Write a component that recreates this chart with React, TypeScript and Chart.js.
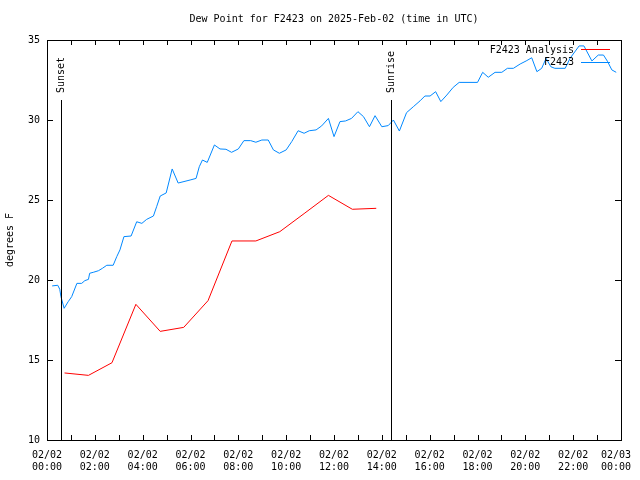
import { useEffect, useRef } from "react";
import { Chart, registerables } from "chart.js";

Chart.register(...registerables);

const TITLE = "Dew Point for F2423 on 2025-Feb-02 (time in UTC)";
const Y_TITLE = "degrees F";
const FONT = "'DejaVu Sans Mono', monospace";

const TICK_DATES = ["02/02", "02/02", "02/02", "02/02", "02/02", "02/02", "02/02", "02/02", "02/02", "02/02", "02/02", "02/02", "02/03"];
const TICK_TIMES = ["00:00", "02:00", "04:00", "06:00", "08:00", "10:00", "12:00", "14:00", "16:00", "18:00", "20:00", "22:00", "00:00"];
const Y_MIN = 10;
const Y_MAX = 35;
const Y_STEP = 5;

const SUNSET_MIN = 35;
const SUNRISE_MIN = 863;

// Observations (minutes after 02/02 00:00 UTC)
const OBS_MINUTES = [
  13, 27, 32, 35, 43, 53, 62, 75, 87, 95, 104, 107, 116, 129, 139, 150, 166, 175, 183, 193,
  211, 225, 238, 250, 267, 275, 284, 299, 314, 329, 359, 374, 382, 390, 402, 420, 434, 449,
  463, 480, 494, 511, 524, 539, 555, 568, 583, 600, 614, 630, 645, 658, 675, 689, 706, 720,
  735, 749, 764, 780, 794, 809, 823, 840, 856, 869, 884, 902, 919, 936, 948, 961, 975, 988,
  1003, 1019, 1034, 1080, 1093, 1107, 1124, 1141, 1155, 1170, 1187, 1202, 1216, 1229, 1241,
  1252, 1264, 1274, 1300, 1312, 1335, 1347, 1367, 1383, 1396, 1406, 1417, 1428,
];
const OBS_VALUES = [
  19.63, 19.67, 19.42, 18.96, 18.23, 18.64, 18.96, 19.79, 19.79, 19.96, 20.04, 20.42, 20.48, 20.58, 20.73, 20.92, 20.92, 21.46, 21.88, 22.71,
  22.75, 23.64, 23.54, 23.79, 24.0, 24.58, 25.25, 25.44, 26.94, 26.06, 26.25, 26.35, 27.08, 27.5, 27.35, 28.44, 28.19, 28.17,
  27.98, 28.19, 28.71, 28.71, 28.61, 28.75, 28.75, 28.13, 27.92, 28.13, 28.65, 29.33, 29.17, 29.33, 29.38, 29.63, 30.1, 28.96,
  29.9, 29.94, 30.1, 30.52, 30.21, 29.58, 30.27, 29.58, 29.65, 30.0, 29.31, 30.46, 30.83, 31.2, 31.5, 31.5, 31.77, 31.15,
  31.56, 32.04, 32.35, 32.35, 32.98, 32.67, 32.98, 32.98, 33.23, 33.23, 33.5, 33.69, 33.89, 33.02, 33.23,
  33.85, 33.33, 33.23, 33.23, 33.85, 34.63, 34.63, 33.69, 34.06, 34.06, 33.67, 33.13, 32.98,
];

// Analysis (hourly)
const ANALYSIS_MINUTES = [44, 104, 163, 223, 284, 343, 404, 464, 524, 584, 645, 706, 766, 826];
const ANALYSIS_VALUES = [14.19, 14.04, 14.83, 18.48, 16.79, 17.04, 18.71, 22.44, 22.44, 23.02, 24.15, 25.29, 24.42, 24.48];

const OBS_LABEL = "F2423";
const ANALYSIS_LABEL = "F2423 Analysis";
const OBS_COLOR = "rgb(0,136,255)";
const ANALYSIS_COLOR = "rgb(255,0,0)";

const decorPlugin = {
  id: "decor",
  afterDraw(chart: any) {
    const ctx = chart.ctx as CanvasRenderingContext2D;
    const a = chart.chartArea;
    const xs = chart.scales.x;
    const ys = chart.scales.y;
    ctx.save();
    ctx.strokeStyle = "#000";
    ctx.lineWidth = 1;
    // frame
    ctx.strokeRect(a.left + 0.5, a.top + 0.5, a.right - a.left, a.bottom - a.top);
    // y ticks both sides
    ctx.beginPath();
    for (let v = Y_MIN; v <= Y_MAX; v += Y_STEP) {
      const y = Math.round(ys.getPixelForValue(v)) + 0.5;
      ctx.moveTo(a.left, y);
      ctx.lineTo(a.left + 6, y);
      ctx.moveTo(a.right, y);
      ctx.lineTo(a.right - 6, y);
    }
    // x ticks hourly top & bottom
    for (let h = 0; h <= 24; h++) {
      const x = Math.round(xs.getPixelForValue(h * 60)) + 0.5;
      ctx.moveTo(x, a.bottom);
      ctx.lineTo(x, a.bottom - 5);
      ctx.moveTo(x, a.top);
      ctx.lineTo(x, a.top + 5);
    }
    ctx.stroke();

    ctx.font = `10px ${FONT}`;
    ctx.fillStyle = "#000";

    // x tick labels (two lines), last one kept inside the canvas
    ctx.textAlign = "center";
    ctx.textBaseline = "middle";
    TICK_TIMES.forEach((t, i) => {
      let x = xs.getPixelForValue(i * 120);
      const half = ctx.measureText(TICK_DATES[i]).width / 2;
      if (x + half > 631) x = 631 - half;
      ctx.fillText(TICK_DATES[i], x, a.bottom + 15);
      ctx.fillText(t, x, a.bottom + 27);
    });

    // sunset / sunrise
    const marks: [number, string][] = [[SUNSET_MIN, "Sunset"], [SUNRISE_MIN, "Sunrise"]];
    for (const [m, label] of marks) {
      const x = Math.round(xs.getPixelForValue(m)) + 0.5;
      ctx.beginPath();
      ctx.moveTo(x, 100);
      ctx.lineTo(x, a.bottom);
      ctx.stroke();
      ctx.save();
      ctx.translate(x, 93);
      ctx.rotate(-Math.PI / 2);
      ctx.textAlign = "left";
      ctx.textBaseline = "middle";
      ctx.fillText(label, 0, 0);
      ctx.restore();
    }

    // title
    ctx.textAlign = "center";
    ctx.textBaseline = "middle";
    ctx.fillText(TITLE, (a.left + a.right) / 2, 19);

    // y title
    ctx.save();
    ctx.translate(10, 240);
    ctx.rotate(-Math.PI / 2);
    ctx.fillText(Y_TITLE, 0, 0);
    ctx.restore();

    // legend
    ctx.textAlign = "right";
    ctx.fillText(ANALYSIS_LABEL, 574, 50);
    ctx.fillText(OBS_LABEL, 574, 62);
    ctx.strokeStyle = ANALYSIS_COLOR;
    ctx.beginPath();
    ctx.moveTo(581, 49.5);
    ctx.lineTo(610, 49.5);
    ctx.stroke();
    ctx.strokeStyle = OBS_COLOR;
    ctx.beginPath();
    ctx.moveTo(581, 62.5);
    ctx.lineTo(610, 62.5);
    ctx.stroke();
    ctx.restore();
  },
};

export default function App() {
  const ref = useRef<HTMLCanvasElement | null>(null);
  useEffect(() => {
    if (!ref.current) return;
    const chart = new Chart(ref.current, {
      type: "line",
      data: {
        datasets: [
          {
            label: ANALYSIS_LABEL,
            data: ANALYSIS_MINUTES.map((m, i) => ({ x: m, y: ANALYSIS_VALUES[i] })),
            borderColor: ANALYSIS_COLOR,
            borderWidth: 1,
            pointRadius: 0,
            tension: 0,
            fill: false,
          },
          {
            label: OBS_LABEL,
            data: OBS_MINUTES.map((m, i) => ({ x: m, y: OBS_VALUES[i] })),
            borderColor: OBS_COLOR,
            borderWidth: 1,
            pointRadius: 0,
            tension: 0,
            fill: false,
          },
        ],
      },
      options: {
        responsive: false,
        animation: false,
        devicePixelRatio: 1,
        layout: { padding: { left: 0, right: 19, top: 40, bottom: 0 } },
        plugins: {
          legend: { display: false },
          title: { display: false },
          tooltip: { enabled: false },
        },
        scales: {
          x: {
            type: "linear",
            min: 0,
            max: 1440,
            grid: { display: false, drawTicks: false },
            border: { display: false },
            afterFit: (s: any) => {
              s.height = 40;
              s.paddingLeft = 0;
              s.paddingRight = 0;
            },
            ticks: {
              display: false,
              stepSize: 120,
            },
          },
          y: {
            min: Y_MIN,
            max: Y_MAX,
            grid: { display: false, drawTicks: false },
            border: { display: false },
            afterFit: (s: any) => {
              s.width = 47;
              s.paddingTop = 0;
              s.paddingBottom = 0;
            },
            ticks: {
              stepSize: Y_STEP,
              padding: 7,
              color: "#000",
              font: { family: FONT, size: 10 },
            },
          },
        },
      },
      plugins: [decorPlugin],
    });
    return () => chart.destroy();
  }, []);
  return (
    <div style={{ position: "fixed", left: 0, top: 0, width: 640, height: 480, background: "#fff" }}>
      <canvas ref={ref} width={640} height={480} style={{ width: 640, height: 480, display: "block" }} />
    </div>
  );
}
